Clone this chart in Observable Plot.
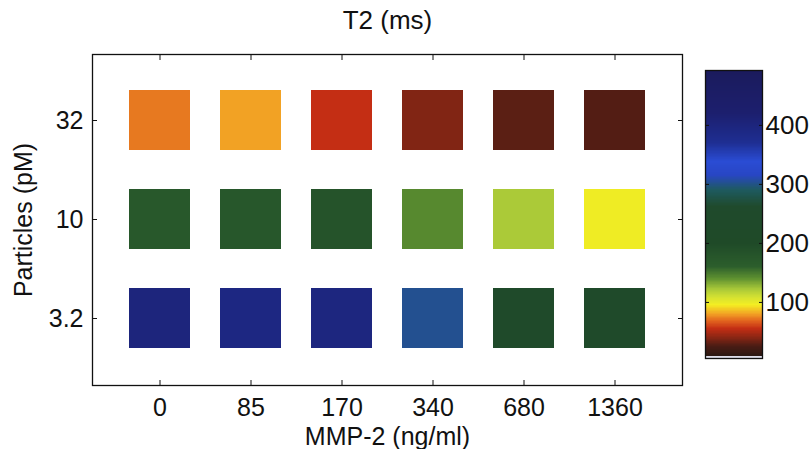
<!DOCTYPE html>
<html>
<head>
<meta charset="utf-8">
<script src="https://cdn.jsdelivr.net/npm/d3@7"></script>
<script src="https://cdn.jsdelivr.net/npm/@observablehq/plot@0.6"></script>
<style>
  html, body { margin: 0; padding: 0; background: #fff; }
  #wrap { position: relative; width: 811px; height: 449px; overflow: hidden; }
  #wrap > svg { position: absolute; top: 0; }
</style>
</head>
<body>
<div id="wrap"></div>
<script>
// ---- data ----
const mmp = ["0", "85", "170", "340", "680", "1360"];          // MMP-2 (ng/ml)
const particles = ["32", "10", "3.2"];                           // Particles (pM)
const t2_32  = [72, 80, 55, 38, 29, 27];                         // T2 (ms), 32 pM row
const t2_10  = [172, 175, 182, 143, 121, 97];                    // T2 (ms), 10 pM row
const t2_3_2 = [400, 392, 396, 302, 238, 232];                   // T2 (ms), 3.2 pM row
const colorTicks = [100, 200, 300, 400];
const colorDomain = [5, 493];
// colormap stops (T2 value -> colour)
const cmapValues = [5, 7.9, 8.5, 25, 40, 55, 68, 80, 95, 108, 122, 140, 160, 200, 262, 290, 315, 338, 370, 420, 493];
const cmapColors = ["#dcdce8", "#dcdce8", "#2a1812", "#4a1c14", "#8a2614", "#c42e14", "#e2641e", "#f2a224",
                    "#f4ee22", "#d4e232", "#a8c838", "#5e9030", "#2c5e2c", "#1f4a28", "#1f4a2c", "#1e5a60",
                    "#2846c4", "#2a4cd4", "#1e2e92", "#1c1f6e", "#1b1b5c"];

const rows = [t2_32, t2_10, t2_3_2];
const cells = [];
particles.forEach((p, i) => mmp.forEach((m, j) => cells.push({mmp: m, particles: p, t2: rows[i][j]})));

const colorScale = {type: "linear", domain: cmapValues, range: cmapColors, interpolate: "rgb", clamp: true};
const font = "'Liberation Sans', Arial, Helvetica, sans-serif";

const main = Plot.plot({
  width: 811, height: 449,
  marginTop: 54, marginRight: 129, marginBottom: 64, marginLeft: 92,
  style: {fontFamily: font, fontSize: "26px", color: "#111", background: "transparent"},
  x: {type: "band", domain: mmp, paddingInner: 0.33, paddingOuter: 0.38},
  y: {type: "band", domain: particles, paddingInner: 0.39, paddingOuter: 0.36},
  color: colorScale,
  marks: [
    Plot.cell(cells, {x: "mmp", y: "particles", fill: "t2"}),
    Plot.frame({stroke: "#111", strokeWidth: 1.3}),
    Plot.axisX({anchor: "bottom", tickSize: -5, tickPadding: 18, fontSize: 25, label: "MMP-2 (ng/ml)", labelAnchor: "center", labelOffset: 59, labelArrow: "none"}),
    Plot.axisX({anchor: "top", tickSize: -5, tickFormat: () => "", label: null}),
    Plot.axisY({anchor: "left", tickSize: -5, tickPadding: 14, fontSize: 25, label: "Particles (pM)", labelAnchor: "center", labelOffset: 78, labelArrow: "none"}),
    Plot.axisY({anchor: "right", tickSize: -5, tickFormat: () => "", label: null}),
    Plot.text(["T2 (ms)"], {frameAnchor: "top", dy: -44, fontSize: 26, fill: "#111"})
  ]
});
main.style.left = "0px";

const barValues = d3.range(colorDomain[0], colorDomain[1], 1);
const bar = Plot.plot({
  width: 116, height: 449,
  marginTop: 70, marginRight: 49, marginBottom: 91, marginLeft: 10,
  style: {fontFamily: font, fontSize: "26px", color: "#111", background: "transparent"},
  x: {domain: [0, 1], axis: null},
  y: {domain: colorDomain},
  color: colorScale,
  marks: [
    Plot.rect(barValues, {x1: 0, x2: 1, y1: d => d, y2: d => Math.min(d + 1.6, colorDomain[1]), fill: d => d + 0.5, shapeRendering: "crispEdges"}),
    Plot.frame({stroke: "#111", strokeWidth: 1.3}),
    Plot.axisY(colorTicks, {anchor: "right", tickSize: -4, tickPadding: 7, fontSize: 26, label: null}),
    Plot.axisY(colorTicks, {anchor: "left", tickSize: -4, tickFormat: () => "", label: null})
  ]
});
bar.style.left = "695px";

const wrap = document.getElementById("wrap");
wrap.appendChild(main);
wrap.appendChild(bar);
</script>
</body>
</html>
